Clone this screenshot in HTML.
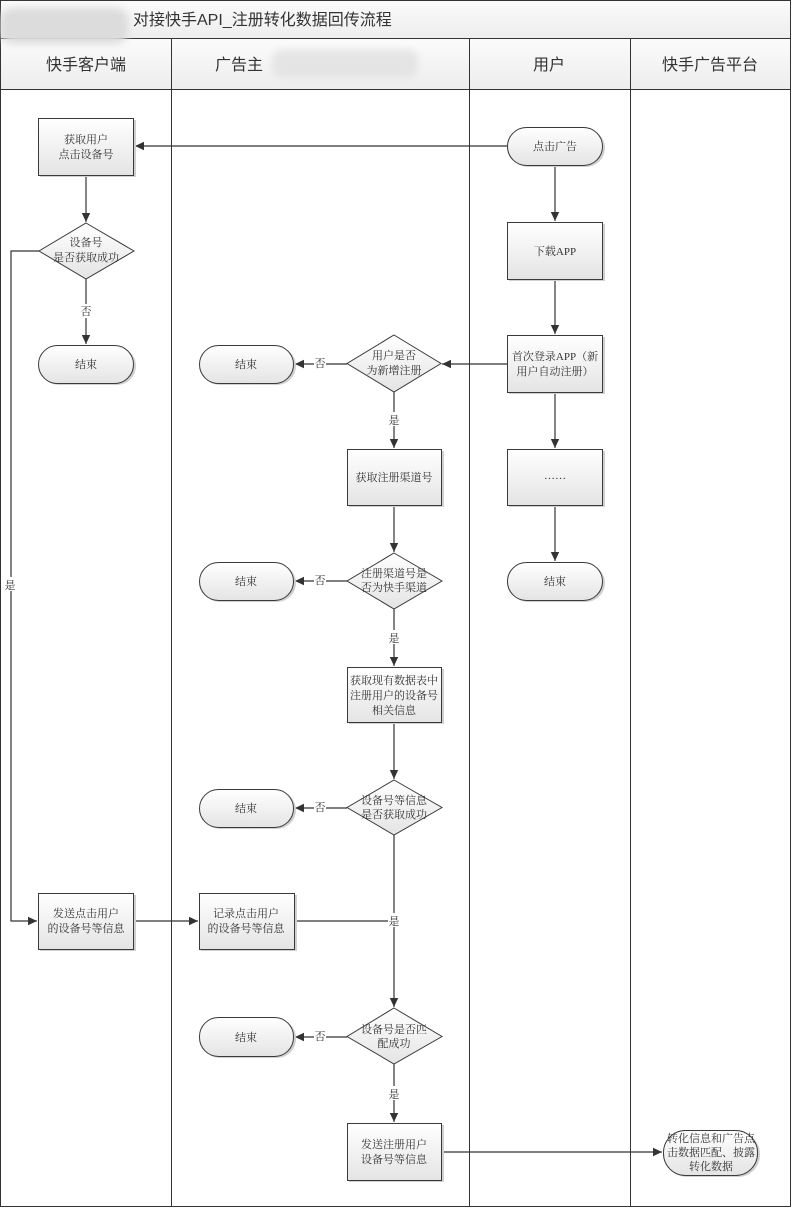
<!DOCTYPE html>
<html><head><meta charset="utf-8">
<style>
html,body{margin:0;padding:0;background:#fff;}
svg{display:block;}
.n{font-family:"Liberation Serif","Noto Serif CJK SC",serif;font-size:11px;fill:#333;}
.h{font-family:"Liberation Sans","Noto Sans CJK SC",sans-serif;font-size:16px;fill:#333;}
.l{font-family:"Liberation Serif","Noto Serif CJK SC",serif;font-size:11px;fill:#333;}
</style></head><body>
<svg width="792" height="1208" viewBox="0 0 792 1208" xmlns="http://www.w3.org/2000/svg">
<defs>
<linearGradient id="g" x1="0" y1="0" x2="0" y2="1"><stop offset="0" stop-color="#ffffff"/><stop offset="1" stop-color="#e4e4e4"/></linearGradient>
<linearGradient id="hg" x1="0" y1="0" x2="0" y2="1"><stop offset="0" stop-color="#fbfbfb"/><stop offset="1" stop-color="#ededed"/></linearGradient>
<marker id="a" markerWidth="10" markerHeight="10" refX="9" refY="5" orient="auto" markerUnits="userSpaceOnUse"><path d="M0,0.8 L9,5 L0,9.2 Z" fill="#333"/></marker>
<filter id="blr" x="-20%" y="-50%" width="140%" height="200%"><feGaussianBlur stdDeviation="4"/></filter>
</defs>

<!-- title & header -->
<rect x="0.5" y="0.5" width="790" height="38" fill="url(#hg)" stroke="#333"/>
<rect x="0.5" y="38.5" width="790" height="51" fill="url(#hg)" stroke="#333"/>
<rect x="0" y="8" width="128" height="36" rx="12" fill="#dcdcdc" filter="url(#blr)"/>
<text x="133" y="25" class="h">对接快手API_注册转化数据回传流程</text>
<text x="86" y="70" class="h" text-anchor="middle">快手客户端</text>
<text x="239" y="70" class="h" text-anchor="middle">广告主</text>
<rect x="272" y="50" width="146" height="28" rx="10" fill="#e4e4e4" filter="url(#blr)"/>
<text x="549" y="70" class="h" text-anchor="middle">用户</text>
<text x="710" y="70" class="h" text-anchor="middle">快手广告平台</text>

<!-- lanes -->
<rect x="0.5" y="89.5" width="790" height="1117" fill="none" stroke="#333"/>
<line x1="171.5" y1="38" x2="171.5" y2="1207" stroke="#333"/>
<line x1="469.5" y1="38" x2="469.5" y2="1207" stroke="#333"/>
<line x1="630.5" y1="38" x2="630.5" y2="1207" stroke="#333"/>

<g stroke="#333" stroke-width="1.2" fill="none">
<!-- connectors -->
<path d="M507,146 H135" marker-end="url(#a)"/>
<path d="M86,175 V222" marker-end="url(#a)"/>
<path d="M86,279 V344" marker-end="url(#a)"/>
<path d="M39,251 H11 V921 H37" marker-end="url(#a)"/>
<path d="M134,921 H198" marker-end="url(#a)"/>
<path d="M294,921 H394"/>
<path d="M555,165 V221" marker-end="url(#a)"/>
<path d="M555,279 V334" marker-end="url(#a)"/>
<path d="M507,364 H442" marker-end="url(#a)"/>
<path d="M555,392 V448" marker-end="url(#a)"/>
<path d="M555,505 V561" marker-end="url(#a)"/>
<path d="M347,364 H295" marker-end="url(#a)"/>
<path d="M394,392 V448" marker-end="url(#a)"/>
<path d="M394,505 V552" marker-end="url(#a)"/>
<path d="M347,581 H295" marker-end="url(#a)"/>
<path d="M394,609 V666" marker-end="url(#a)"/>
<path d="M394,722 V779" marker-end="url(#a)"/>
<path d="M347,808 H295" marker-end="url(#a)"/>
<path d="M394,835 V1007" marker-end="url(#a)"/>
<path d="M347,1037 H295" marker-end="url(#a)"/>
<path d="M394,1064 V1122" marker-end="url(#a)"/>
<path d="M442,1152 H662" marker-end="url(#a)"/>
</g>

<!-- connector labels -->
<g class="l" text-anchor="middle">
<rect x="80" y="304" width="12" height="14" fill="#fff"/><text x="86" y="315">否</text>
<rect x="4" y="577" width="12" height="14" fill="#fff"/><text x="10" y="589">是</text>
<rect x="314" y="356" width="12" height="14" fill="#fff"/><text x="320" y="367">否</text>
<rect x="388" y="412" width="12" height="14" fill="#fff"/><text x="394" y="424">是</text>
<rect x="314" y="573" width="12" height="14" fill="#fff"/><text x="320" y="584">否</text>
<rect x="388" y="630" width="12" height="14" fill="#fff"/><text x="394" y="642">是</text>
<rect x="314" y="800" width="12" height="14" fill="#fff"/><text x="320" y="811">否</text>
<rect x="388" y="913" width="12" height="14" fill="#fff"/><text x="394" y="925">是</text>
<rect x="314" y="1029" width="12" height="14" fill="#fff"/><text x="320" y="1040">否</text>
<rect x="388" y="1086" width="12" height="14" fill="#fff"/><text x="394" y="1098">是</text>
</g>

<!-- shadows -->
<g fill="#d0d0d0">
<rect x="40" y="120" width="96" height="57"/>
<rect x="40" y="895" width="96" height="56"/>
<rect x="201" y="895" width="96" height="56"/>
<rect x="509" y="224" width="96" height="57"/>
<rect x="509" y="337" width="96" height="57"/>
<rect x="509" y="451" width="96" height="56"/>
<rect x="349" y="451" width="95" height="56"/>
<rect x="349" y="669" width="95" height="55"/>
<rect x="349" y="1125" width="95" height="57"/>
<rect x="40" y="347" width="96" height="38" rx="19"/>
<rect x="201" y="347" width="95" height="38" rx="19"/>
<rect x="201" y="564" width="95" height="38" rx="19"/>
<rect x="201" y="791" width="95" height="38" rx="19"/>
<rect x="201" y="1019" width="95" height="39" rx="19"/>
<rect x="509" y="129" width="96" height="38" rx="19"/>
<rect x="509" y="564" width="96" height="38" rx="19"/>
<rect x="665" y="1132" width="95" height="45" rx="22"/>
</g>

<!-- shapes -->
<g fill="url(#g)" stroke="#3a3a3a" stroke-width="1">
<rect x="38.5" y="118.5" width="95" height="57"/>
<rect x="38.5" y="893.5" width="95" height="56"/>
<rect x="199.5" y="893.5" width="95" height="56"/>
<rect x="507.5" y="222.5" width="95" height="57"/>
<rect x="507.5" y="335.5" width="95" height="57"/>
<rect x="507.5" y="449.5" width="95" height="56"/>
<rect x="347.5" y="449.5" width="94" height="56"/>
<rect x="347.5" y="667.5" width="94" height="55"/>
<rect x="347.5" y="1123.5" width="94" height="57"/>
<rect x="38.5" y="345.5" width="95" height="38" rx="19"/>
<rect x="199.5" y="345.5" width="94" height="38" rx="19"/>
<rect x="199.5" y="562.5" width="94" height="38" rx="19"/>
<rect x="199.5" y="789.5" width="94" height="38" rx="19"/>
<rect x="199.5" y="1017.5" width="94" height="39" rx="19"/>
<rect x="507.5" y="127.5" width="95" height="38" rx="19"/>
<rect x="507.5" y="562.5" width="95" height="38" rx="19"/>
<rect x="663.5" y="1130.5" width="94" height="45" rx="22"/>
<path d="M86,223 L134,251 L86,279 L39,251 Z"/>
<path d="M394,335 L441,363.5 L394,392 L347,363.5 Z"/>
<path d="M394,553 L442,581 L394,609 L347,581 Z"/>
<path d="M394,780 L442,807.5 L394,835 L347,807.5 Z"/>
<path d="M394,1008 L442,1036.5 L394,1064 L347,1036.5 Z"/>
</g>

<!-- node texts -->
<g class="n" text-anchor="middle">
<text x="86" y="143">获取用户</text><text x="86" y="158">点击设备号</text>
<text x="86" y="246">设备号</text><text x="86" y="261">是否获取成功</text>
<text x="86" y="368">结束</text>
<text x="246" y="368">结束</text>
<text x="246" y="585">结束</text>
<text x="246" y="812">结束</text>
<text x="246" y="1041">结束</text>
<text x="555" y="585">结束</text>
<text x="555" y="150">点击广告</text>
<text x="555" y="255">下载APP</text>
<text x="555" y="360">首次登录APP（新</text><text x="555" y="375">用户自动注册）</text>
<text x="555" y="479">……</text>
<text x="394" y="359">用户是否</text><text x="394" y="374">为新增注册</text>
<text x="394" y="481">获取注册渠道号</text>
<text x="394" y="577">注册渠道号是</text><text x="394" y="591">否为快手渠道</text>
<text x="394" y="684">获取现有数据表中</text><text x="394" y="699">注册用户的设备号</text><text x="394" y="714">相关信息</text>
<text x="394" y="804">设备号等信息</text><text x="394" y="818">是否获取成功</text>
<text x="394" y="1033">设备号是否匹</text><text x="394" y="1047">配成功</text>
<text x="394" y="1148">发送注册用户</text><text x="394" y="1163">设备号等信息</text>
<text x="86" y="917">发送点击用户</text><text x="86" y="932">的设备号等信息</text>
<text x="246" y="917">记录点击用户</text><text x="246" y="932">的设备号等信息</text>
<text x="711" y="1142">转化信息和广告点</text><text x="711" y="1156">击数据匹配、披露</text><text x="711" y="1170">转化数据</text>
</g>
</svg>
</body></html>
